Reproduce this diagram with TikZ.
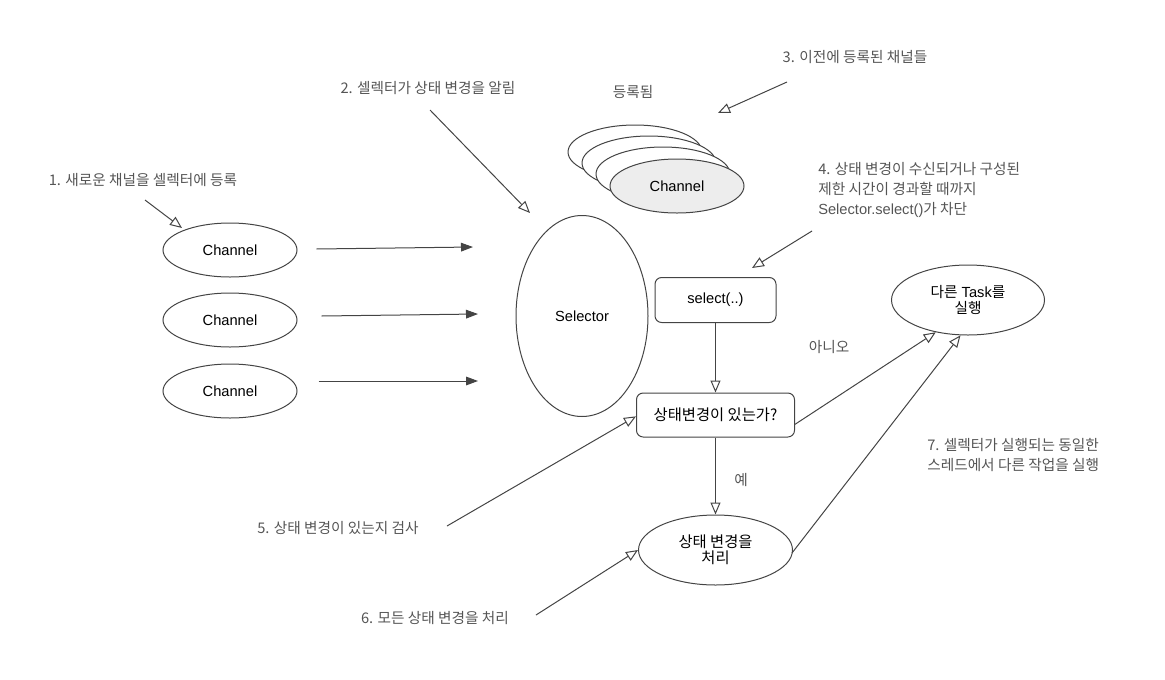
\documentclass[tikz,border=0pt]{standalone}
\usepackage{fontspec}
\setmainfont{Liberation Sans}
\newfontfamily\kr{Noto Sans CJK KR}
\usetikzlibrary{shapes.geometric,arrows.meta}
\definecolor{ln}{HTML}{444444}
\definecolor{lbl}{HTML}{555555}
\tikzset{
  x=0.75pt, y=-0.75pt,
  ell/.style={draw=ln, line width=0.75pt, ellipse, inner sep=0pt, font=\fontsize{11}{13}\selectfont, align=center},
  rbox/.style={draw=ln, line width=0.75pt, rounded corners=5pt, inner sep=0pt, font=\fontsize{11}{13}\selectfont, align=center},
  lab/.style={text=lbl, font=\kr\fontsize{11}{15}\selectfont, inner sep=0pt},
  oarr/.style={draw=ln, line width=0.75pt, -{Triangle[open, length=9pt, width=7.5pt, fill=white]}},
  farr/.style={draw=ln, line width=0.75pt, -{Triangle[length=9pt, width=6.5pt]}},
}
\begin{document}
\begin{tikzpicture}
\useasboundingbox (0,0) rectangle (1165,679);
% channels on left
\node[ell, minimum width=134pt*0.75, minimum height=54pt*0.75] (c1) at (230,250) {Channel};
\node[ell, minimum width=134pt*0.75, minimum height=54pt*0.75] (c2) at (230,320) {Channel};
\node[ell, minimum width=134pt*0.75, minimum height=54pt*0.75] (c3) at (230,391) {Channel};
% selector
\node[ell, minimum width=132pt*0.75, minimum height=201pt*0.75] (sel) at (582,316) {Selector};
\coordinate (s1) at (473,247);
\coordinate (s2) at (478,314);
\coordinate (s3) at (478,381);
\draw[farr] ([xshift=14.25pt, yshift=0.75pt]c1.east) -- (s1);
\draw[farr] ([xshift=18pt, yshift=3pt]c2.east) -- (s2);
\draw[farr] ([xshift=15.75pt, yshift=7.5pt]c3.east) -- (s3);
% stacked channels
\node[ell, fill=white, minimum width=134pt*0.75, minimum height=54pt*0.75] (r0) at (635,152) {};
\node[ell, fill=white, minimum width=134pt*0.75, minimum height=54pt*0.75] (r1) at (649,163) {};
\node[ell, fill=white, minimum width=134pt*0.75, minimum height=54pt*0.75] (r2) at (663,174) {};
\node[ell, fill=black!7, minimum width=134pt*0.75, minimum height=54pt*0.75] (r3) at (677,186) {Channel};
\node[lab] (reg) at (633,92) {등록됨};
% select box
\node[rbox, minimum width=121pt*0.75, minimum height=45pt*0.75] (sb) at (715.5,300) {select(..)};
\node[rbox, minimum width=158pt*0.75, minimum height=44pt*0.75] (q) at (715.5,415) {\kr\fontsize{11.5}{13}\selectfont 상태변경이 있는가?};
\node[ell, minimum width=153pt*0.75, minimum height=70pt*0.75] (task) at (968,300) {{\kr 다른} Task{\kr 를}\\[-1pt]\kr 실행};
\node[ell, minimum width=154pt*0.75, minimum height=70pt*0.75] (proc) at (715.5,550) {\kr\fontsize{11.5}{13}\selectfont 상태 변경을\\[-1pt]\kr\fontsize{11.5}{13}\selectfont 처리};
\draw[oarr] (sb) -- (q);
\draw[oarr] (q) -- (proc);
\draw[oarr] ([yshift=-7pt]q.east) -- (task.-135);
\coordinate (p7) at (792,553);
\draw[oarr] (p7) -- (task.-102);
\node[lab] at (829,347) {아니오};
\node[lab] at (741,480) {예};
% labels
\node[lab] (l1) at (143,180) {1. 새로운 채널을 셀렉터에 등록};
\node[lab] (l2) at (428,88) {2. 셀렉터가 상태 변경을 알림};
\node[lab] (l3) at (855,57) {3. 이전에 등록된 채널들};
\node[lab, anchor=west, align=left] (l4) at (818,190) {4. 상태 변경이 수신되거나 구성된\\제한 시간이 경과할 때까지\\{\rmfamily Selector.select()}가 차단};
\node[lab] (l5) at (338,528) {5. 상태 변경이 있는지 검사};
\node[lab] (l6) at (435,618) {6. 모든 상태 변경을 처리};
\node[lab, anchor=west, align=left] (l7) at (927,455) {7. 셀렉터가 실행되는 동일한\\스레드에서 다른 작업을 실행};
% annotation arrows
\coordinate (a1) at (145,200);
\coordinate (a2) at (430,110);
\coordinate (a3) at (787,82);
\coordinate (a4) at (812,231);
\coordinate (a5) at (447,526);
\coordinate (a6) at (536,615);
\draw[oarr] (a1) -- (182,228);
\draw[oarr] (a2) -- (530,213);
\draw[oarr] (a3) -- (718,113);
\draw[oarr] (a4) -- (752,268);
\draw[oarr] (a5) -- ([yshift=-1pt]q.west);
\draw[oarr] (a6) -- (proc.west);
\end{tikzpicture}
\end{document}
